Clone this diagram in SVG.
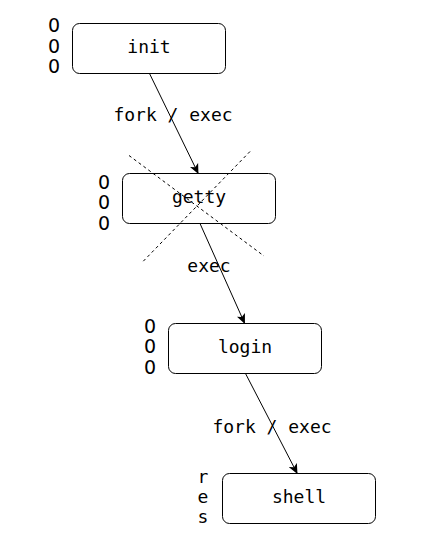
<svg xmlns="http://www.w3.org/2000/svg" width="442" height="557" viewBox="0 0 442 557">
<defs>
<style>
text{font-family:"DejaVu Sans Mono","Liberation Mono",monospace;font-size:18px;fill:#000}
.lbl{text-anchor:middle}
.z{font-family:"DejaVu Sans","Liberation Sans",sans-serif;font-size:19px;text-anchor:middle}
.box{fill:#fff;stroke:#000;stroke-width:1}
.edge{stroke:#000;stroke-width:1;fill:none;marker-end:url(#arr)}
.x{stroke:#000;stroke-width:1;stroke-dasharray:3 3;fill:none}
</style>
<marker id="arr" viewBox="0 0 10 10" refX="9" refY="5" markerWidth="10" markerHeight="10" markerUnits="userSpaceOnUse" orient="auto">
<path d="M0,0.5 L10,5 L0,9.5 L2.5,5 Z" fill="#000"/>
</marker>
</defs>
<rect width="442" height="557" fill="#fff"/>
<g id="init">
<rect class="box" x="72.5" y="23.5" width="153" height="50" rx="7"/>
<text class="lbl" x="149" y="53">init</text>
<text class="z" x="54" y="31.5">0</text>
<text class="z" x="54" y="52.5">0</text>
<text class="z" x="54" y="73">0</text>
</g>
<g id="getty">
<rect class="box" x="122.5" y="173.5" width="153" height="50" rx="7"/>
<text class="lbl" x="199" y="203">getty</text>
<text class="z" x="104" y="188.5">0</text>
<text class="z" x="104" y="209">0</text>
<text class="z" x="104" y="229.5">0</text>
<line class="x" x1="129" y1="155.5" x2="264" y2="256"/>
<line class="x" x1="250" y1="151.5" x2="143" y2="261.5"/>
</g>
<g id="login">
<rect class="box" x="168.5" y="323.5" width="153" height="50" rx="7"/>
<text class="lbl" x="245" y="353">login</text>
<text class="z" x="150" y="332.5">0</text>
<text class="z" x="150" y="353">0</text>
<text class="z" x="150" y="373.5">0</text>
</g>
<g id="shell">
<rect class="box" x="222.5" y="473.5" width="153" height="50" rx="7"/>
<text class="lbl" x="299" y="503">shell</text>
<text class="lbl" x="203" y="483">r</text>
<text class="lbl" x="203" y="503">e</text>
<text class="lbl" x="203" y="523">s</text>
</g>
<g id="connectors">
<line class="edge" x1="149.5" y1="73.5" x2="198" y2="173"/>
<text class="lbl" x="173" y="121">fork / exec</text>
<line class="edge" x1="200" y1="223.5" x2="244.5" y2="323"/>
<text class="lbl" x="209" y="272">exec</text>
<line class="edge" x1="245.5" y1="373.5" x2="297" y2="473"/>
<text class="lbl" x="272" y="433">fork / exec</text>
</g>
</svg>
